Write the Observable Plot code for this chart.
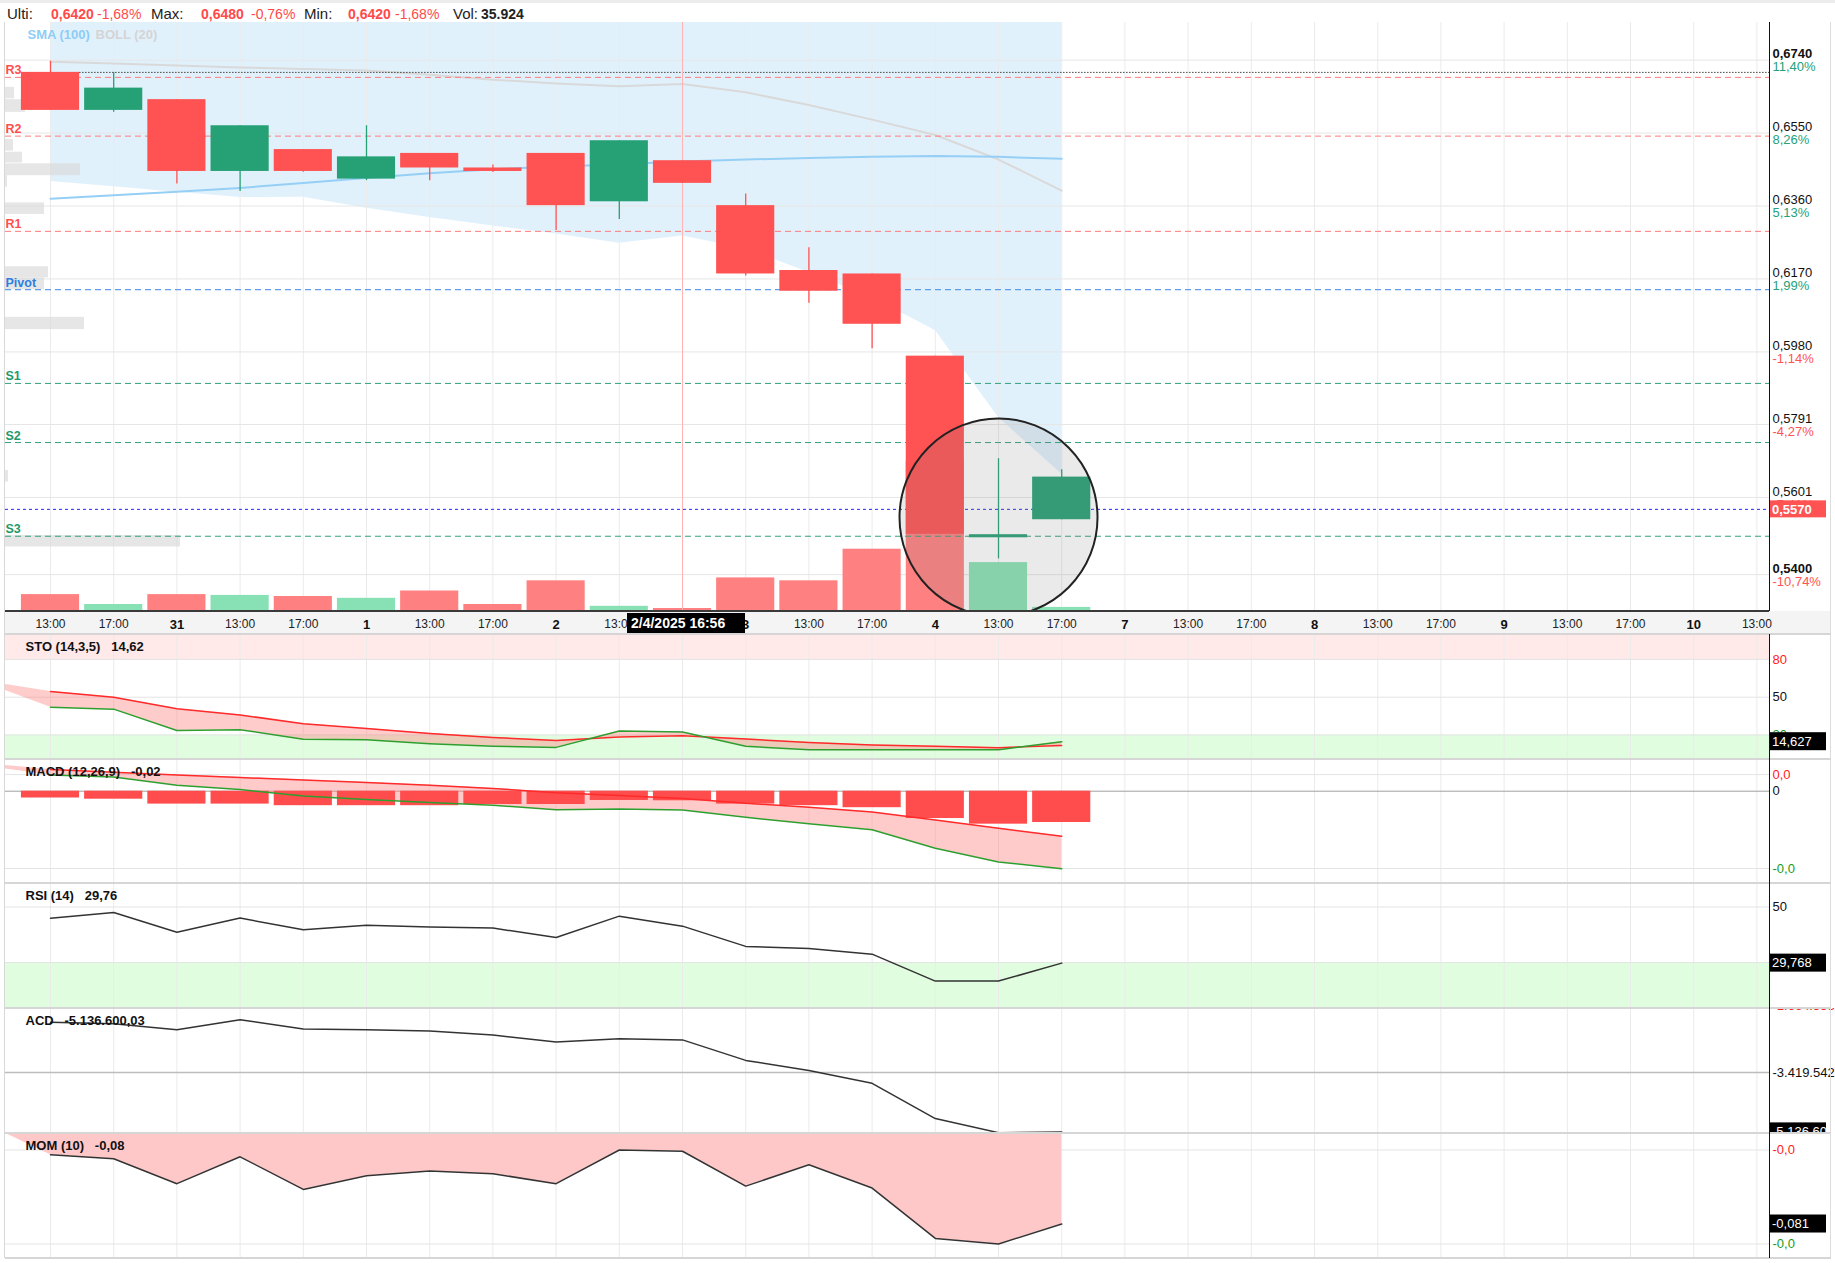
<!DOCTYPE html>
<html>
<head>
<meta charset="utf-8">
<script src="https://cdn.jsdelivr.net/npm/d3@7"></script>
<script src="https://cdn.jsdelivr.net/npm/@observablehq/plot@0.6"></script>
<style>
  html,body{margin:0;padding:0;background:#fff;}
  #root{position:relative;width:1835px;height:1263px;overflow:hidden;background:#fff;font-family:Arial,"Liberation Sans",sans-serif;}
  .layer{position:absolute;left:0;}
  .layer svg{display:block;overflow:hidden;}
  .hdr{position:absolute;top:5px;font-size:14px;line-height:18px;white-space:nowrap;color:#222;}
  .hdr.lbl{font-size:15px;}
  .deco{position:absolute;}
</style>
</head>
<body>
<div id="root"></div>
<script>
// ---------------- DATA ----------------
const slotLabels = ["13:00","17:00","31","13:00","17:00","1","13:00","17:00","2","13:00","17:00","3","13:00","17:00","4","13:00","17:00","7","13:00","17:00","8","13:00","17:00","9","13:00","17:00","10","13:00"];
const open   = [0.6708,0.6609,0.6637,0.6450,0.6507,0.6430,0.6497,0.6459,0.6497,0.6371,0.6478,0.6361,0.6192,0.6183,0.5969,0.5496,0.5543];
const high   = [0.6737,0.6708,0.6637,0.6569,0.6507,0.6569,0.6497,0.6467,0.6497,0.6530,0.6478,0.6391,0.6251,0.6183,0.5969,0.5702,0.5673];
const low    = [0.6609,0.6604,0.6417,0.6398,0.6448,0.6426,0.6426,0.6447,0.6296,0.6325,0.6419,0.6178,0.6107,0.5988,0.5505,0.5441,0.5543];
const close  = [0.6609,0.6667,0.6450,0.6569,0.6450,0.6488,0.6459,0.6450,0.6361,0.6530,0.6419,0.6183,0.6138,0.6052,0.5505,0.5504,0.5654];
const volume = [16900,7000,16900,16100,15000,13200,20500,7000,30700,5200,3000,33600,30700,62300,150000,48900,4100];

const sma100   = [0.6379,0.6388,0.6397,0.6407,0.6420,0.6433,0.6445,0.6456,0.6462,0.6469,0.6476,0.6481,0.6485,0.6488,0.6490,0.6488,0.6483];
const bollMid  = [0.6736,0.6731,0.6726,0.6721,0.6717,0.6713,0.6702,0.6689,0.6679,0.6672,0.6678,0.6656,0.6623,0.6585,0.6545,0.6481,0.6400];
const bollLow  = [0.6424,0.6410,0.6396,0.6382,0.6383,0.6354,0.6330,0.6308,0.6287,0.6263,0.6282,0.6249,0.6187,0.6121,0.6036,0.5809,0.5662];
const bollUp   = [0.7049,0.7053,0.7056,0.7059,0.7050,0.7072,0.7075,0.7071,0.7071,0.7081,0.7074,0.7063,0.7059,0.7050,0.7055,0.7154,0.7139];

const levelNames  = ["R3","R2","R1","Pivot","S1","S2","S3"];
const levelValues = [0.6695,0.6542,0.6294,0.6142,0.5898,0.5744,0.5500];

const priceTicks = [0.6740,0.6550,0.6360,0.6170,0.5980,0.5791,0.5601,0.5400];
const pricePct   = ["11,40%","8,26%","5,13%","1,99%","-1,14%","-4,27%","-7,41%","-10,74%"];
const boldPriceTicks = [0.6740,0.5400];
const lastPrice = 0.5570, lastPriceLabel = "0,5570";
const refOpenSlot = 0;            // dotted line at open of first candle
const crossSlot = 10, crossLabel = "2/4/2025 16:56";
const highlight = [{slot: 15, price: 0.5549}];

const profileLo  = [0.6639,0.6604,0.6503,0.6472,0.6439,0.6409,0.6338,0.6173,0.6142,0.6038,0.5641,0.5472];
const profileHi  = [0.6669,0.6637,0.6533,0.6500,0.6470,0.6439,0.6368,0.6202,0.6173,0.6070,0.5671,0.5502];
const profileVol = [9,20,8,17,75,2,39,43,39,79,3,175];

const stoK = [42.0,40.5,23.5,24.2,16.5,16.1,13.0,11.0,10.1,23.2,22.3,11.0,8.2,8.2,8.2,8.2,14.63];
const stoD = [54.5,50.0,40.8,35.9,28.9,25.1,21.2,18.0,15.5,18.4,19.3,16.8,13.9,12.0,11.0,9.8,11.7];
const stoPrev = {k: 60.6, d: 62.3};
const stoLevels = [80, 50, 20];

const macdLine = [0.00417,0.00365,0.00155,0.00041,-0.00124,-0.00217,-0.00292,-0.00365,-0.00479,-0.00458,-0.00489,-0.00675,-0.00843,-0.00999,-0.01477,-0.01829,-0.02005];
const macdSignal = [0.00561,0.00489,0.00417,0.00354,0.00290,0.00228,0.00155,0.00072,-0.00041,-0.00114,-0.00186,-0.00313,-0.00417,-0.00541,-0.00748,-0.00957,-0.01164];
const macdHist = [-0.00176,-0.00207,-0.00334,-0.00334,-0.00375,-0.00375,-0.00375,-0.00344,-0.00344,-0.00240,-0.00248,-0.00334,-0.00375,-0.00427,-0.00707,-0.00853,-0.00810];
const macdPrev = {m: 0.0064, s: 0.0071};
const macdMax = 0.0043, macdMin = -0.0200;

const rsi = [45.96,48.0,40.9,46.0,41.8,43.4,42.8,42.4,39.0,46.7,43.1,35.8,35.0,33.0,23.3,23.3,29.77];

const acd = [-1965000,-2012000,-2185000,-1896000,-2160000,-2185000,-2223000,-2338000,-2535000,-2442000,-2477000,-3070000,-3359000,-3732000,-4752000,-5160000,-5136600];
const acdMax = -1664553, acdMid = -3419542, acdLast = -5136600;

const mom = [-0.00995,-0.01406,-0.0396,-0.0120,-0.0455,-0.0314,-0.0265,-0.0294,-0.0396,-0.0050,-0.0063,-0.0421,-0.0202,-0.0441,-0.0958,-0.1015,-0.0810];
const momPrev = 0.021;
const momMax = -0.0050, momMin = -0.1015;

const headerText = ["Ulti:","0,6420","-1,68%","Max:","0,6480","-0,76%","Min:","0,6420","-1,68%","Vol:","35.924"];

// ---------------- LAYOUT / STYLE ----------------
const FONT = 'Arial, "Liberation Sans", sans-serif';
const W = 1835, ML = 5, MR = 66;
const X_DOMAIN = [-0.712, 27.199];
const PRICE_DOMAIN = [0.5304, 0.68379];
const HALF = 0.46;
const UP = "#26a075", DN = "#ff5252", UPV = "#88e1b4", DNV = "#ff8080";
const root = document.getElementById("root");

const ALL_SLOTS = d3.range(slotLabels.length);
const candles = d3.range(open.length).map(i => ({slot: i, open: open[i], high: high[i], low: low[i], close: close[i], vol: volume[i], up: close[i] >= open[i]}));
const boll = d3.range(bollMid.length).map(i => ({slot: i, mid: bollMid[i], lo: bollLow[i], up: bollUp[i], sma: sma100[i]}));
const levels = levelNames.map((n, i) => ({name: n, value: levelValues[i],
  line: n[0] === "R" ? "#ff7b7b" : n[0] === "S" ? "#34a07c" : "#3b86e6",
  label: n[0] === "R" ? "#ff4f4f" : n[0] === "S" ? "#1f9a6c" : "#2f7fe0"}));
const pctRows = priceTicks.map((v, i) => ({value: v, pct: pricePct[i], color: pricePct[i][0] === "-" ? "#ff5252" : "#26a17a"}));
const profile = profileLo.map((lo, i) => ({lo, hi: profileHi[i], vol: profileVol[i]}));
const timeSlots = ALL_SLOTS.filter(i => slotLabels[i].includes(":"));
const daySlots = ALL_SLOTS.filter(i => !slotLabels[i].includes(":"));

function place(svg, top) {
  const d = document.createElement("div");
  d.className = "layer"; d.style.top = top + "px";
  d.appendChild(svg); root.appendChild(d);
}
function deco(left, top, width, height, bg) {
  const d = document.createElement("div");
  d.className = "deco";
  Object.assign(d.style, {left: left + "px", top: top + "px", width: width + "px", height: height + "px", background: bg});
  root.appendChild(d);
}
function base(extra) {
  return Plot.plot(Object.assign({
    width: W, marginLeft: ML, marginRight: MR, marginTop: 0, marginBottom: 0,
    style: {background: "transparent", fontFamily: FONT, overflow: "hidden"},
    color: {type: "identity"}
  }, extra));
}
function yBox(value, label, o = {}) {
  const {bg = "#000", fg = "#fff", w = 57, h = 18, bold = false, size = 13} = o;
  return (index, scales, values, dims) => {
    const sy = scales.y || scales.scales.y;
    const y = sy(value);
    const x = dims.width - dims.marginRight;
    const g = d3.create("svg:g");
    g.append("rect").attr("x", x).attr("y", y - h / 2).attr("width", w).attr("height", h).attr("fill", bg);
    g.append("text").attr("x", x + 3).attr("y", y).attr("dy", "0.36em").attr("fill", fg).attr("text-anchor", "start")
      .attr("font-size", size).attr("font-weight", bold ? "bold" : "normal").attr("font-family", FONT).text(label);
    return g.node();
  };
}
function xBox(slot, label) {
  return (index, scales, values, dims) => {
    const sx = scales.x || scales.scales.x;
    const x = sx(slot);
    const y = dims.height - dims.marginBottom;
    const g = d3.create("svg:g");
    g.append("rect").attr("x", x - 55).attr("y", y + 2).attr("width", 118).attr("height", 20).attr("fill", "#000");
    g.append("text").attr("x", x - 51).attr("y", y + 12).attr("dy", "0.36em").attr("fill", "#fff").attr("text-anchor", "start")
      .attr("font-size", 14).attr("font-weight", "bold").attr("font-family", FONT).text(label);
    return g.node();
  };
}
const gridX = () => Plot.gridX(ALL_SLOTS, {stroke: "#ebebeb", strokeOpacity: 1});
const title = (t) => Plot.text([t], {frameAnchor: "top-left", dx: 20, dy: 12, lineAnchor: "middle", text: d => d, textAnchor: "start", fontWeight: "bold", fontSize: 13, fill: "#111"});
const rLabel = (value, text, fill = "#111", o = {}) => Plot.text([{value, text}], Object.assign({y: "value", text: "text", frameAnchor: "right", dx: 3, textAnchor: "start", fill, fontSize: 13}, o));

// x-axis band behind
deco(5, 611, 1825, 23, "#f4f4f4");

// ---------------- MAIN: base layer ----------------
place(base({
  height: 614, marginBottom: 25,
  x: {domain: X_DOMAIN, axis: null}, y: {domain: PRICE_DOMAIN, axis: null},
  marks: [
    Plot.areaY(boll, {x: "slot", y1: "lo", y2: "up", fill: "#e1f1fc", clip: true}),
    gridX(),
    Plot.gridY(priceTicks, {stroke: "#e6e6e6", strokeOpacity: 1}),
    Plot.line(boll, {x: "slot", y: "mid", stroke: "#d9d9d9", strokeWidth: 2, clip: true}),
    Plot.line(boll, {x: "slot", y: "sma", stroke: "#96cff5", strokeWidth: 2, clip: true})
  ]
}), 22);

// volume profile layer
place(base({
  height: 614, marginBottom: 25,
  x: {domain: [0, 1764], axis: null}, y: {domain: PRICE_DOMAIN, axis: null},
  marks: [Plot.rect(profile, {x1: 0, x2: "vol", y1: "lo", y2: "hi", fill: "#d9d9d9", fillOpacity: 0.65})]
}), 22);

// volume layer
place(base({
  height: 614, marginBottom: 25,
  x: {domain: X_DOMAIN, axis: null}, y: {domain: [0, 589000], axis: null},
  marks: [Plot.rect(candles, {x1: d => d.slot - HALF, x2: d => d.slot + HALF, y1: 0, y2: "vol", fill: d => d.up ? UPV : DNV})]
}), 22);

// top layer: levels, candles, annotations, axes
place(base({
  height: 614, marginBottom: 25,
  x: {domain: X_DOMAIN}, y: {domain: PRICE_DOMAIN},
  marks: [
    Plot.ruleY(levels, {y: "value", stroke: "line", strokeDasharray: "6,4", strokeWidth: 1}),
    Plot.ruleY([candles[refOpenSlot]], {y: "open", x1: d => d.slot + HALF, x2: X_DOMAIN[1], stroke: "#444", strokeDasharray: "1.5,1.5", strokeWidth: 1}),
    Plot.ruleY([lastPrice], {stroke: "#2323ff", strokeDasharray: "3,3", strokeWidth: 1}),
    Plot.ruleX([crossSlot], {stroke: "#ffb3b3", strokeWidth: 1}),
    Plot.ruleX(candles, {x: "slot", y1: "low", y2: "high", stroke: d => d.up ? UP : DN, strokeWidth: 1.3}),
    Plot.rect(candles, {x1: d => d.slot - HALF, x2: d => d.slot + HALF, y1: "open", y2: "close", fill: d => d.up ? UP : DN}),
    Plot.dot(highlight, {x: "slot", y: "price", r: 99, fill: "#808080", fillOpacity: 0.17, stroke: "#222", strokeWidth: 2, clip: true}),
    Plot.text(levels, {y: "value", text: "name", fill: "label", frameAnchor: "left", dx: 0, dy: -7, textAnchor: "start", fontWeight: "bold", fontSize: 12.5}),
    Plot.text(["SMA (100)"], {frameAnchor: "top-left", dx: 22, dy: 12, lineAnchor: "middle", text: d => d, textAnchor: "start", fontWeight: "bold", fontSize: 13, fill: "#8ecdf6"}),
    Plot.text(["BOLL (20)"], {frameAnchor: "top-left", dx: 90, dy: 12, lineAnchor: "middle", text: d => d, textAnchor: "start", fontWeight: "bold", fontSize: 13, fill: "#d4d4d4"}),
    Plot.axisY(priceTicks.filter(v => !boldPriceTicks.includes(v)), {anchor: "right", label: null, tickSize: 0, tickPadding: 3, dy: -6, fontSize: 13, fill: "#111", tickFormat: d => d.toFixed(4).replace(".", ",")}),
    Plot.axisY(boldPriceTicks, {anchor: "right", label: null, tickSize: 0, tickPadding: 3, dy: -6, fontSize: 13, fontWeight: "bold", fill: "#111", tickFormat: d => d.toFixed(4).replace(".", ",")}),
    Plot.text(pctRows, {y: "value", text: "pct", fill: "color", frameAnchor: "right", dx: 3, dy: 7, textAnchor: "start", fontSize: 13}),
    yBox(lastPrice, lastPriceLabel, {bg: "#ff5252", bold: true, h: 17}),
    Plot.axisX(timeSlots, {anchor: "bottom", label: null, tickSize: 0, tickPadding: 8, fontSize: 12, fill: "#222", tickFormat: i => slotLabels[i]}),
    Plot.axisX(daySlots, {anchor: "bottom", label: null, tickSize: 0, tickPadding: 8, fontSize: 13, fontWeight: "bold", fill: "#111", tickFormat: i => slotLabels[i]}),
    xBox(crossSlot, crossLabel)
  ]
}), 22);

// ---------------- STO ----------------
const stoRows = stoK.map((k, i) => ({slot: i, k, d: stoD[i]}));
const stoFill = [{slot: -1, k: stoPrev.k, d: stoPrev.d}, ...stoRows];
place(base({
  height: 124, x: {domain: X_DOMAIN, axis: null}, y: {domain: [1.27, 99.84], axis: null},
  marks: [
    Plot.rect([{a: stoLevels[0], b: 120}], {y1: "a", y2: "b", fill: "#ffe9e9", clip: true}),
    Plot.rect([{a: -20, b: stoLevels[2]}], {y1: "a", y2: "b", fill: "#e0fde0", clip: true}),
    gridX(),
    Plot.gridY(stoLevels, {stroke: "#e4e4e4", strokeOpacity: 1}),
    Plot.areaY(stoFill, {x: "slot", y1: "k", y2: "d", fill: "#ff8080", fillOpacity: 0.4, clip: true}),
    Plot.line(stoRows, {x: "slot", y: "d", stroke: "#ff2a2a", strokeWidth: 1.5}),
    Plot.line(stoRows, {x: "slot", y: "k", stroke: "#2e9e2e", strokeWidth: 1.5}),
    title("STO (14,3,5)   14,62"),
    rLabel(80, "80", "#ff2020"),
    rLabel(50, "50", "#111"),
    rLabel(20, "20", "#1a9a1a"),
    yBox(stoK[stoK.length - 1], "14,627")
  ]
}), 634);

// ---------------- MACD ----------------
const macdRows = macdLine.map((m, i) => ({slot: i, m, s: macdSignal[i], h: macdHist[i]}));
const macdFill = [{slot: -1, m: macdPrev.m, s: macdPrev.s}, ...macdRows];
place(base({
  height: 123, x: {domain: X_DOMAIN, axis: null}, y: {domain: [-0.023622, 0.008202], axis: null},
  marks: [
    gridX(),
    Plot.gridY([macdMax, macdMin], {stroke: "#e4e4e4", strokeOpacity: 1}),
    Plot.ruleY([0], {stroke: "#a0a0a0", strokeWidth: 1}),
    Plot.areaY(macdFill, {x: "slot", y1: "m", y2: "s", fill: "#ff8080", fillOpacity: 0.42, clip: true}),
    Plot.rect(macdRows, {x1: d => d.slot - HALF, x2: d => d.slot + HALF, y1: 0, y2: "h", fill: "#ff4d4d"}),
    Plot.line(macdRows, {x: "slot", y: "s", stroke: "#ff2a2a", strokeWidth: 1.5}),
    Plot.line(macdRows, {x: "slot", y: "m", stroke: "#2e9e2e", strokeWidth: 1.5}),
    title("MACD (12,26,9)   -0,02"),
    rLabel(macdMax, "0,0", "#ff2020"),
    rLabel(0, "0", "#111"),
    rLabel(macdMin, "-0,0", "#1a9a1a")
  ]
}), 759);

// ---------------- RSI ----------------
const rsiRows = rsi.map((v, i) => ({slot: i, v}));
place(base({
  height: 124, x: {domain: X_DOMAIN, axis: null}, y: {domain: [13.78, 58.47], axis: null},
  marks: [
    Plot.rect([{a: 0, b: 30}], {y1: "a", y2: "b", fill: "#e0fde0", clip: true}),
    gridX(),
    Plot.gridY([50, 30], {stroke: "#e4e4e4", strokeOpacity: 1}),
    Plot.line(rsiRows, {x: "slot", y: "v", stroke: "#333", strokeWidth: 1.5}),
    title("RSI (14)   29,76"),
    rLabel(50, "50", "#111"),
    yBox(rsi[rsi.length - 1], "29,768")
  ]
}), 883);

// ---------------- ACD ----------------
const acdRows = acd.map((v, i) => ({slot: i, v}));
place(base({
  height: 124, x: {domain: X_DOMAIN, axis: null}, y: {domain: [-5154147, -1569296], axis: null},
  marks: [
    gridX(),
    Plot.ruleY([acdMid], {stroke: "#bdbdbd", strokeWidth: 1.5}),
    Plot.line(acdRows, {x: "slot", y: "v", stroke: "#333", strokeWidth: 1.5}),
    title("ACD   -5.136.600,03"),
    rLabel(acdMax, "-1.664.553", "#ff2020", {dy: -6}),
    rLabel(acdMid, "-3.419.542", "#111"),
    yBox(acdLast, "-5.136.600", {w: 57})
  ]
}), 1008);

// ---------------- MOM ----------------
const momRows = mom.map((v, i) => ({slot: i, v}));
const momFill = [{slot: -1, v: momPrev}, ...momRows];
const MOM_FILL_TO = 0.05;
place(base({
  height: 124, x: {domain: X_DOMAIN, axis: null}, y: {domain: [-0.11537, 0.01191], axis: null},
  marks: [
    gridX(),
    Plot.gridY([momMax, momMin], {stroke: "#e4e4e4", strokeOpacity: 1}),
    Plot.areaY(momFill, {x: "slot", y1: "v", y2: () => MOM_FILL_TO, fill: "#ffc8c8", clip: true}),
    Plot.line(momRows, {x: "slot", y: "v", stroke: "#333", strokeWidth: 1.5}),
    title("MOM (10)   -0,08"),
    rLabel(momMax, "-0,0", "#ff2020"),
    yBox(mom[mom.length - 1], "-0,081"),
    rLabel(momMin, "-0,0", "#1a9a1a")
  ]
}), 1133);

// ---------------- frame decorations ----------------
deco(0, 0, 1835, 3, "#ececec");
deco(4, 22, 1, 1236, "#d8d8d8");
deco(1830, 22, 1, 1236, "#dcdcdc");
deco(5, 610, 1764, 2, "#3a3a3a");
[633, 758, 882, 1007, 1132, 1257].forEach(y => deco(5, y, 1826, 2, "#d6d6d6"));
deco(1769, 22, 1, 589, "#111");
deco(1769, 634, 1, 624, "#111");

// ---------------- header ----------------
const headerX = [7, 51, 97, 151, 201, 251, 304, 348, 395, 453, 481];
headerText.forEach((t, i) => {
  const s = document.createElement("div");
  s.className = "hdr";
  s.textContent = t;
  s.style.left = headerX[i] + "px";
  const isValue = /^[-\d]/.test(t);
  const isVol = i === headerText.length - 1;
  if (!isValue) s.classList.add("lbl");
  if (isValue && !isVol) s.style.color = "#ff4a4a";
  if ((isValue && !t.includes("%")) || isVol) s.style.fontWeight = "bold";
  root.appendChild(s);
});
</script>
</body>
</html>
